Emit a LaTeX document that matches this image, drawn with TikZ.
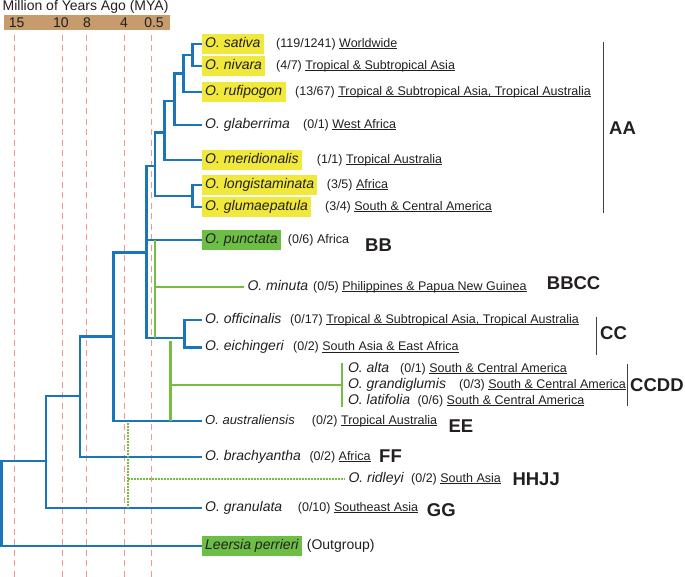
\documentclass[tikz,border=0pt]{standalone}
\usepackage{fontspec}
\setmainfont{Liberation Sans}
\usepackage{xcolor}
\usepackage{tikz}

\definecolor{treeblue}{RGB}{27,117,187}
\definecolor{treegreen}{RGB}{118,190,67}
\definecolor{hlyellow}{RGB}{240,233,60}
\definecolor{hlgreen}{RGB}{109,190,69}
\definecolor{axisbar}{RGB}{198,156,109}
\definecolor{myared}{RGB}{244,150,150}
\definecolor{txt}{RGB}{35,31,32}

\newcommand{\fs}[1]{\fontsize{#1}{#1}\selectfont}
\newcommand{\geo}[1]{\underline{\smash{#1}}}

\begin{document}
\begin{tikzpicture}[x=1pt,y=-1pt,
    br/.style={treeblue,line width=2.9pt},
    gbr/.style={treegreen,line width=2.9pt},
    dotbr/.style={treegreen,line width=2.2pt,dash pattern=on 1.5pt off 1.5pt},
    mya/.style={myared,line width=1pt,dash pattern=on 6pt off 4.5pt},
    sp/.style={anchor=west,text=txt,font=\fs{14}\itshape,inner xsep=3.3pt,inner ysep=3pt,text height=10pt,text depth=3.5pt},
    yel/.style={sp,fill=hlyellow},
    grn/.style={sp,fill=hlgreen},
    info/.style={anchor=base west,inner sep=0pt,text=txt,font=\fs{12.5}},
    clade/.style={anchor=west,inner sep=0pt,text=txt,font=\fs{18.5}\bfseries},
    brk/.style={txt!85,line width=1pt},
    tick/.style={text=txt,font=\fs{14},inner sep=0pt}]
    \useasboundingbox (0,0) rectangle (685,577);

    % time axis
    \node[anchor=base west,inner sep=0pt,text=txt,font=\fs{14}] (title) at (2.5,10.7) {Million of Years Ago (MYA)};
    \node[fill=axisbar,anchor=north west,inner sep=0pt,minimum width=166.7pt,minimum height=15pt] (bar) at (3.3,15) {};
    \node[tick] (t15) at (16.7,22.5) {15};
    \node[tick] (t10) at (61,22.5) {10};
    \node[tick] (t8) at (87,22.5) {8};
    \node[tick] (t4) at (124,22.5) {4};
    \node[tick] (t05) at (154,22.5) {0.5};
    \foreach \x in {14.3,62.3,86.3,124.3,151.7}
        \draw[mya] (\x,35) -- (\x,577);

    % species
    \node[yel] (sat) at (201.7,44) {O. sativa};
    \node[yel] (niv) at (201.7,66) {O. nivara};
    \node[yel] (ruf) at (201.7,92) {O. rufipogon};
    \node[sp] (gla) at (201.7,125) {O. glaberrima};
    \node[yel] (mer) at (201.7,160) {O. meridionalis};
    \node[yel] (lon) at (201.7,185) {O. longistaminata};
    \node[yel] (glu) at (201.7,207) {O. glumaepatula};
    \node[grn] (pun) at (201.7,240) {O. punctata};
    \node[sp] (min) at (244,287) {O. minuta};
    \node[sp] (off) at (201.7,320) {O. officinalis};
    \node[sp] (eic) at (201.7,347.5) {O. eichingeri};
    \node[sp] (alt) at (344.5,369) {O. alta};
    \node[sp] (gra) at (344.5,385) {O. grandiglumis};
    \node[sp] (lat) at (344.5,401) {O. latifolia};
    \node[sp,font=\fs{13}\itshape] (aus) at (201.7,421) {O. australiensis};
    \node[sp] (bra) at (201.7,457) {O. brachyantha};
    \node[sp] (rid) at (345,479) {O. ridleyi};
    \node[sp] (gran) at (201.7,508) {O. granulata};
    \node[grn] (lee) at (201.7,546) {Leersia perrieri};

    \node[info] at (276,0 |- sat.base) {(119/1241) \geo{Worldwide}};
    \node[info] at (276,0 |- niv.base) {(4/7) \geo{Tropical \& Subtropical Asia}};
    \node[info] at (295,0 |- ruf.base) {(13/67) \geo{Tropical \& Subtropical Asia, Tropical Australia}};
    \node[info] at (303,0 |- gla.base) {(0/1) \geo{West Africa}};
    \node[info] at (316.7,0 |- mer.base) {(1/1) \geo{Tropical Australia}};
    \node[info] at (326.7,0 |- lon.base) {(3/5) \geo{Africa}};
    \node[info] at (325,0 |- glu.base) {(3/4) \geo{South \& Central America}};
    \node[info] at (287.7,0 |- pun.base) {(0/6) Africa};
    \node[info] at (313,0 |- min.base) {(0/5) \geo{Philippines \& Papua New Guinea}};
    \node[info] at (290,0 |- off.base) {(0/17) \geo{Tropical \& Subtropical Asia, Tropical Australia}};
    \node[info] at (293,0 |- eic.base) {(0/2) \geo{South Asia \& East Africa}};
    \node[info] at (400,0 |- alt.base) {(0/1) \geo{South \& Central America}};
    \node[info] at (459,0 |- gra.base) {(0/3) \geo{South \& Central America}};
    \node[info] at (417.3,0 |- lat.base) {(0/6) \geo{South \& Central America}};
    \node[info] at (311.7,0 |- aus.base) {(0/2) \geo{Tropical Australia}};
    \node[info] at (309.3,0 |- bra.base) {(0/2) \geo{Africa}};
    \node[info] at (411,0 |- rid.base) {(0/2) \geo{South Asia}};
    \node[info] at (297.7,0 |- gran.base) {(0/10) \geo{Southeast Asia}};
    \node[info,font=\fs{14}] at (306.7,0 |- lee.base) {(Outgroup)};

    % genome types
    \node[clade] (lAA) at (609,128) {AA};
    \node[clade] (lBB) at (365,245) {BB};
    \node[clade] (lBBCC) at (546.7,283) {BBCC};
    \node[clade] (lCC) at (600,333) {CC};
    \node[clade] (lCCDD) at (630,385) {CCDD};
    \node[clade] (lEE) at (448.3,426) {EE};
    \node[clade] (lFF) at (379,456) {FF};
    \node[clade] (lHHJJ) at (512.3,479) {HHJJ};
    \node[clade] (lGG) at (426.7,510) {GG};
    \draw[brk] (603.3,42.3) -- (603.3,212.7);
    \draw[brk] (596,316.7) -- (596,355);
    \draw[brk] (627.3,364) -- (627.3,406);

    % tree
    \coordinate (n1) at (192.7,55);
    \coordinate (n2) at (183.3,73.3);
    \coordinate (n3) at (174.3,101);
    \coordinate (n4) at (164.3,132.3);
    \coordinate (n5) at (192.7,196);
    \coordinate (aa) at (155,166);
    \coordinate (n6) at (146.7,252.3);
    \coordinate (n7) at (184.3,338);
    \coordinate (n8) at (113.3,336.7);
    \coordinate (n9) at (80,396);
    \coordinate (n10) at (46,461);
    \coordinate (root) at (1.7,503);
    \draw[br] (n1) |- (sat.west) (n1) |- (niv.west)
              (n2) |- (n1) (n2) |- (ruf.west)
              (n3) |- (n2) (n3) |- (gla.west)
              (n4) |- (n3) (n4) |- (mer.west)
              (n5) |- (lon.west) (n5) |- (glu.west)
              (aa) |- (n4) (aa) |- (n5)
              (n7) |- (off.west) (n7) |- (eic.west)
              (n6) |- (aa) (n6) |- (pun.west) (n6) |- (n7)
              (n8) |- (n6) (n8) |- (aus.west)
              (n9) |- (n8) (n9) |- (bra.west)
              (n10) |- (n9) (n10) |- (gran.west)
              (root) |- (n10) (root) |- (lee.west);

    \coordinate (g1) at (155,240);
    \coordinate (g2) at (155,338);
    \coordinate (g3) at (170.7,341);
    \coordinate (g4) at (342,385);
    \draw[gbr] (g1) -- (g2) (g1 |- min.west) -- (min.west);
    \draw[gbr] (g3) -- (g3 |- aus.west) (g3 |- g4) -- (g4);
    \draw[gbr] (g4) ++(0,-22) -- ++(0,44);

    \coordinate (d1) at (128.3,423);
    \coordinate (d2) at (128.3,508);
    \draw[dotbr] (d1) -- (d2) (d1 |- rid.west) -- (rid.west);
\end{tikzpicture}
\end{document}
